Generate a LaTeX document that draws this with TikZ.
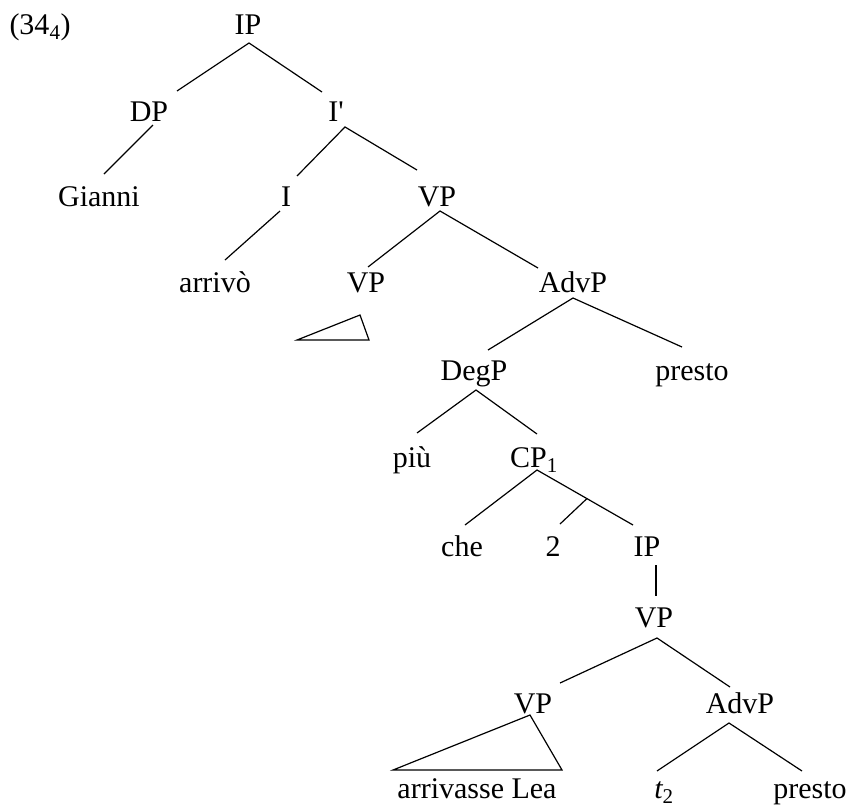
\documentclass[tikz,border=0pt]{standalone}
\usepackage{fontspec}
\newfontfamily\tnr{Liberation Serif}
\tikzset{
  lbl/.style={anchor=base,inner sep=0pt,font={\tnr\fontsize{30}{36}\selectfont}},
  branch/.style={line width=1.2pt,line join=miter}
}
\begin{document}
\begin{tikzpicture}[x=1pt,y=-1pt]
\useasboundingbox[fill=white] (0,0) rectangle (858,809);
% nodes
\node[lbl] (ex) at (40,34) {(34\textsubscript{4})};
\node[lbl] (IP) at (248,34) {IP};
\node[lbl] (DP) at (149,121) {DP};
\node[lbl] (Ib) at (336,121) {I'};
\node[lbl] (Gianni) at (99,206) {Gianni};
\node[lbl] (I) at (286,206) {I};
\node[lbl] (VPa) at (437,206) {VP};
\node[lbl] (arrivo) at (215,292) {arrivò};
\node[lbl] (VPb) at (366,292) {VP};
\node[lbl] (AdvPa) at (573,292) {AdvP};
\node[lbl] (DegP) at (474,380) {DegP};
\node[lbl] (prestoa) at (692,380) {presto};
\node[lbl] (piu) at (412,467) {più};
\node[lbl,anchor=base west] (CP) at (510,467) {CP\textsubscript{1}};
\node[lbl] (che) at (462,556) {che};
\node[lbl] (two) at (553,556) {2};
\node[lbl] (IPb) at (647,556) {IP};
\node[lbl] (VPc) at (654,627) {VP};
\node[lbl] (VPd) at (533,713) {VP};
\node[lbl] (AdvPb) at (740,713) {AdvP};
\node[lbl] (arrlea) at (477,798) {arrivasse Lea};
\node[lbl] (t2) at (664,798) {{\itshape t}\textsubscript{2}};
\node[lbl] (prestob) at (810,798) {presto};
% branches
\draw[branch] ([shift={(28,-30)}]DP.base) -- ([shift={(1,9)}]IP.base) -- ([shift={(-14,-29)}]Ib.base);
\draw[branch] ([shift={(4,4)}]DP.base) -- ([shift={(5,-32)}]Gianni.base);
\draw[branch] ([shift={(11,-30)}]I.base) -- ([shift={(9,6)}]Ib.base) -- ([shift={(-20,-36)}]VPa.base);
\draw[branch] ([shift={(-6,5)}]I.base) -- ([shift={(10,-32)}]arrivo.base);
\draw[branch] ([shift={(2,-25)}]VPb.base) -- ([shift={(3,5)}]VPa.base) -- ([shift={(-35,-24)}]AdvPa.base);
\draw[branch] ([shift={(-6,23)}]VPb.base) -- ([shift={(-69,48)}]VPb.base) -- ([shift={(3,48)}]VPb.base) -- cycle;
\draw[branch] ([shift={(14,-30)}]DegP.base) -- ([shift={(0,6)}]AdvPa.base) -- ([shift={(-10,-33)}]prestoa.base);
\draw[branch] ([shift={(5,-34)}]piu.base) -- ([shift={(2,10)}]DegP.base) -- ([shift={(27,-33)}]CP.base west);
\draw[branch] ([shift={(3,-31)}]che.base) -- ([shift={(27,3)}]CP.base west)
   -- coordinate[pos=0.52] (cpmid) ([shift={(-14,-31)}]IPb.base);
\draw[branch] (cpmid) -- ([shift={(7,-32)}]two.base);
\draw[branch] ([shift={(9,9)}]IPb.base) -- ([shift={(2,-31)}]VPc.base);
\draw[branch] ([shift={(27,-30)}]VPd.base) -- ([shift={(3,11)}]VPc.base) -- ([shift={(-10,-26)}]AdvPb.base);
\draw[branch] ([shift={(-3,2)}]VPd.base) -- ([shift={(-140,57)}]VPd.base) -- ([shift={(29,57)}]VPd.base) -- cycle;
\draw[branch] ([shift={(-7,-27)}]t2.base) -- ([shift={(-11,10)}]AdvPb.base) -- ([shift={(-8,-27)}]prestob.base);
\end{tikzpicture}
\end{document}
